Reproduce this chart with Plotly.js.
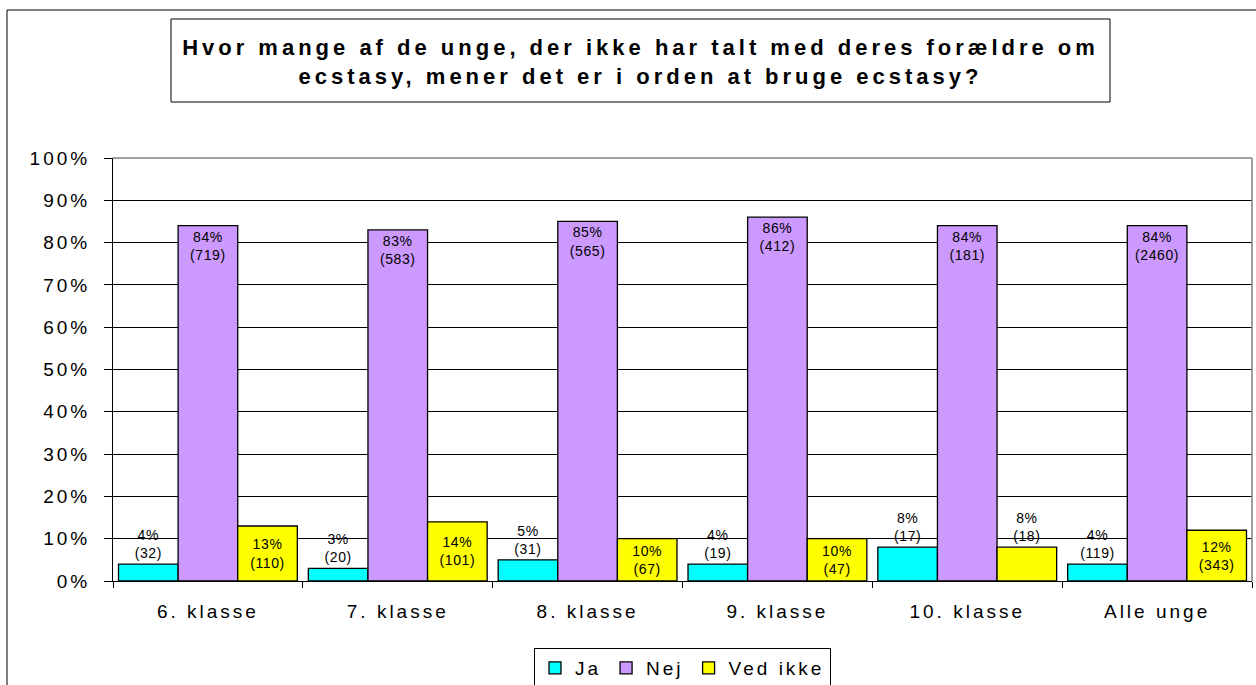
<!DOCTYPE html>
<html>
<head>
<meta charset="utf-8">
<script src="https://cdn.plot.ly/plotly-3.0.1.min.js"></script>
<style>
  html, body { margin: 0; padding: 0; background: #fff; }
  #chart { width: 1256px; height: 685px; }
  .gtitle { letter-spacing: 4px; }
  .xtick text, .ytick text { letter-spacing: 3px; }
  .legendtext { letter-spacing: 3px; }
  .bartext { letter-spacing: 0.6px; }
</style>
</head>
<body>
<div id="chart"></div>
<script>
const categories = ['6. klasse', '7. klasse', '8. klasse', '9. klasse', '10. klasse', 'Alle unge'];
const seriesNames = ['Ja', 'Nej', 'Ved ikke'];
const jaPct = [4, 3, 5, 4, 8, 4];
const jaCount = [32, 20, 31, 19, 17, 119];
const nejPct = [84, 83, 85, 86, 84, 84];
const nejCount = [719, 583, 565, 412, 181, 2460];
const vedIkkePct = [13, 14, 10, 10, 8, 12];
const vedIkkeCount = [110, 101, 67, 47, 18, 343];
const titleLines = ['Hvor mange af de unge, der ikke har talt med deres forældre om', 'ecstasy, mener det er i orden at bruge ecstasy?'];

const FONT = '"Liberation Sans", Arial, sans-serif';
const labels = (p, n) => p.map((v, i) => v + '%<br>(' + n[i] + ')');

const common = {
  type: 'bar',
  x: categories,
  textangle: 0,
  constraintext: 'none',
  cliponaxis: false,
  textfont: { family: FONT, size: 14, color: '#000' },
  insidetextfont: { family: FONT, size: 14, color: '#000' },
  outsidetextfont: { family: FONT, size: 14, color: '#000' },
  hoverinfo: 'x+y'
};

const traces = [
  Object.assign({}, common, {
    name: seriesNames[0], y: jaPct, text: labels(jaPct, jaCount),
    textposition: 'outside',
    marker: { color: '#00FFFF', line: { color: '#000', width: 1.3 } }
  }),
  Object.assign({}, common, {
    name: seriesNames[1], y: nejPct, text: labels(nejPct, nejCount),
    textposition: 'inside', insidetextanchor: 'end',
    marker: { color: '#CC99FF', line: { color: '#000', width: 1.3 } }
  }),
  Object.assign({}, common, {
    name: seriesNames[2], y: vedIkkePct, text: labels(vedIkkePct, vedIkkeCount),
    textposition: vedIkkePct.map(v => v >= 10 ? 'inside' : 'outside'), insidetextanchor: 'middle',
    marker: { color: '#FFFF00', line: { color: '#000', width: 1.3 } }
  })
];

// plot area in pixels: x 113..1252, y 158..581
const L = 113, R = 1252, T = 158, B = 581;
const px = x => (x - L) / (R - L);
const py = y => (B - y) / (B - T);

const layout = {
  width: 1256, height: 685,
  margin: { l: L, r: 1256 - R, t: T, b: 685 - B, pad: 0, autoexpand: false },
  paper_bgcolor: '#fff', plot_bgcolor: '#fff',
  font: { family: FONT, size: 19, color: '#000' },
  title: {
    text: '<b>' + titleLines[0] + '</b><br><b>' + titleLines[1] + '</b>',
    font: { family: FONT, size: 22, color: '#000' },
    x: 640.5 / 1256, xanchor: 'center', xref: 'container',
    y: 1 - 55 / 685, yanchor: 'middle', yref: 'container'
  },
  barmode: 'group', bargap: 0.058, bargroupgap: 0,
  showlegend: true,
  legend: {
    orientation: 'h', x: 0.5, xanchor: 'center', y: py(648), yanchor: 'top',
    bordercolor: '#000', borderwidth: 1, bgcolor: '#fff',
    font: { family: FONT, size: 19, color: '#000' },
    traceorder: 'normal', itemclick: false, itemwidth: 30
  },
  xaxis: {
    type: 'category', showline: true, linecolor: '#000', linewidth: 1,
    ticks: 'outside', tickson: 'boundaries', ticklen: 6, tickcolor: '#000',
    showgrid: false, zeroline: false,
    tickfont: { family: FONT, size: 19, color: '#000' },
    ticklabelstandoff: 13
  },
  yaxis: {
    range: [0, 100], dtick: 10, tick0: 0, ticksuffix: '%',
    showline: true, linecolor: '#000', linewidth: 1,
    ticks: 'outside', ticklen: 8, tickcolor: '#000',
    showgrid: true, gridcolor: '#000', gridwidth: 1, zeroline: false,
    tickfont: { family: FONT, size: 19, color: '#000' },
    ticklabelstandoff: 10
  },
  shapes: [
    // plot-area frame (top and right, grey)
    { type: 'line', xref: 'paper', yref: 'paper', x0: 0, x1: 1, y0: 1, y1: 1, line: { color: '#808080', width: 1.5 }, layer: 'above' },
    { type: 'line', xref: 'paper', yref: 'paper', x0: 1, x1: 1, y0: 0, y1: 1, line: { color: '#808080', width: 1.5 }, layer: 'above' },
    // title box
    { type: 'rect', xref: 'paper', yref: 'paper', x0: px(171), x1: px(1110), y0: py(102), y1: py(19), line: { color: '#000', width: 1 }, fillcolor: 'rgba(0,0,0,0)', layer: 'below' },
    // outer chart border
    { type: 'rect', xref: 'paper', yref: 'paper', x0: px(7), x1: px(1270), y0: py(720), y1: py(10), line: { color: '#000', width: 1 }, fillcolor: 'rgba(0,0,0,0)', layer: 'below' }
  ]
};

Plotly.newPlot('chart', traces, layout, { displayModeBar: false, staticPlot: true });
</script>
</body>
</html>
